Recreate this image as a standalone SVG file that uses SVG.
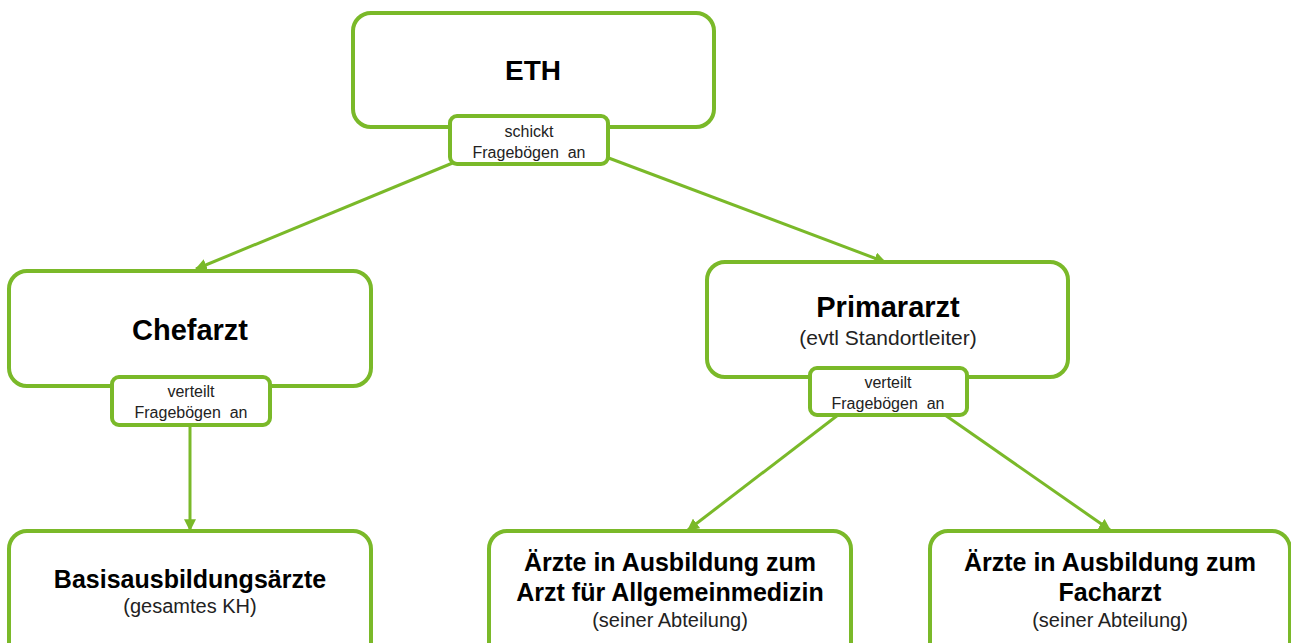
<svg xmlns="http://www.w3.org/2000/svg" width="1291" height="643" viewBox="0 0 1291 643">
<style>
.box{fill:#fff;stroke:#7ab929;stroke-width:4}
.lbl{fill:#fff;stroke:#7ab929;stroke-width:4}
.con{stroke:#7ab929;stroke-width:3;fill:none;marker-end:url(#ah)}
text{font-family:"Liberation Sans",Arial,sans-serif;fill:#000;text-anchor:middle}
.t1{font-size:28px;font-weight:bold}
.t2{font-size:29px;font-weight:bold}
.t3{font-size:25px;font-weight:bold}
.t4{font-size:25px;font-weight:bold}
.s1{font-size:21px;fill:#222}
.s2{font-size:20px;fill:#222}
.l{font-size:16px;fill:#222;white-space:pre}
</style>
<defs>
<marker id="ah" viewBox="0 0 10 10" refX="9" refY="5" markerWidth="4" markerHeight="4" orient="auto" markerUnits="strokeWidth">
<path d="M0,0 L10,5 L0,10 z" fill="#7ab929"/>
</marker>
</defs>
<rect width="1291" height="643" fill="#fff"/>
<g id="connectors">
<line class="con" x1="455" y1="162" x2="196" y2="269"/>
<line class="con" x1="606" y1="157" x2="885" y2="262"/>
<line class="con" x1="190" y1="425" x2="190" y2="530"/>
<line class="con" x1="838" y1="415" x2="688" y2="530"/>
<line class="con" x1="945" y1="415" x2="1110" y2="530"/>
</g>
<g id="eth">
<rect class="box" x="353" y="13" width="361" height="114" rx="18"/>
<text class="t1" x="533" y="80">ETH</text>
</g>
<g id="eth-label">
<rect class="lbl" x="450" y="116" width="158" height="48" rx="7"/>
<text class="l" x="529" y="137">schickt</text>
<text class="l" x="529" y="158" xml:space="preserve">Fragebögen  an</text>
</g>
<g id="chefarzt">
<rect class="box" x="9" y="271" width="362" height="115" rx="18"/>
<text class="t2" x="190" y="340">Chefarzt</text>
</g>
<g id="chefarzt-label">
<rect class="lbl" x="112" y="377" width="158" height="48" rx="7"/>
<text class="l" x="191" y="397">verteilt</text>
<text class="l" x="191" y="418" xml:space="preserve">Fragebögen  an</text>
</g>
<g id="primararzt">
<rect class="box" x="707" y="262" width="361" height="115" rx="18"/>
<text class="t2" x="888" y="317">Primararzt</text>
<text class="s1" x="888" y="345">(evtl Standortleiter)</text>
</g>
<g id="primararzt-label">
<rect class="lbl" x="810" y="368" width="157" height="47" rx="7"/>
<text class="l" x="888" y="388">verteilt</text>
<text class="l" x="888" y="409" xml:space="preserve">Fragebögen  an</text>
</g>
<g id="basis">
<rect class="box" x="9" y="531" width="362" height="130" rx="18"/>
<text class="t3" x="190" y="588">Basisausbildungsärzte</text>
<text class="s2" x="190" y="613">(gesamtes KH)</text>
</g>
<g id="allgemein">
<rect class="box" x="489" y="531" width="362" height="130" rx="18"/>
<text class="t4" x="670" y="571">Ärzte in Ausbildung zum</text>
<text class="t4" x="670" y="601">Arzt für Allgemeinmedizin</text>
<text class="s2" x="670" y="627">(seiner Abteilung)</text>
</g>
<g id="facharzt">
<rect class="box" x="930" y="531" width="360" height="130" rx="18"/>
<text class="t4" x="1110" y="571">Ärzte in Ausbildung zum</text>
<text class="t4" x="1110" y="601">Facharzt</text>
<text class="s2" x="1110" y="627">(seiner Abteilung)</text>
</g>
</svg>
